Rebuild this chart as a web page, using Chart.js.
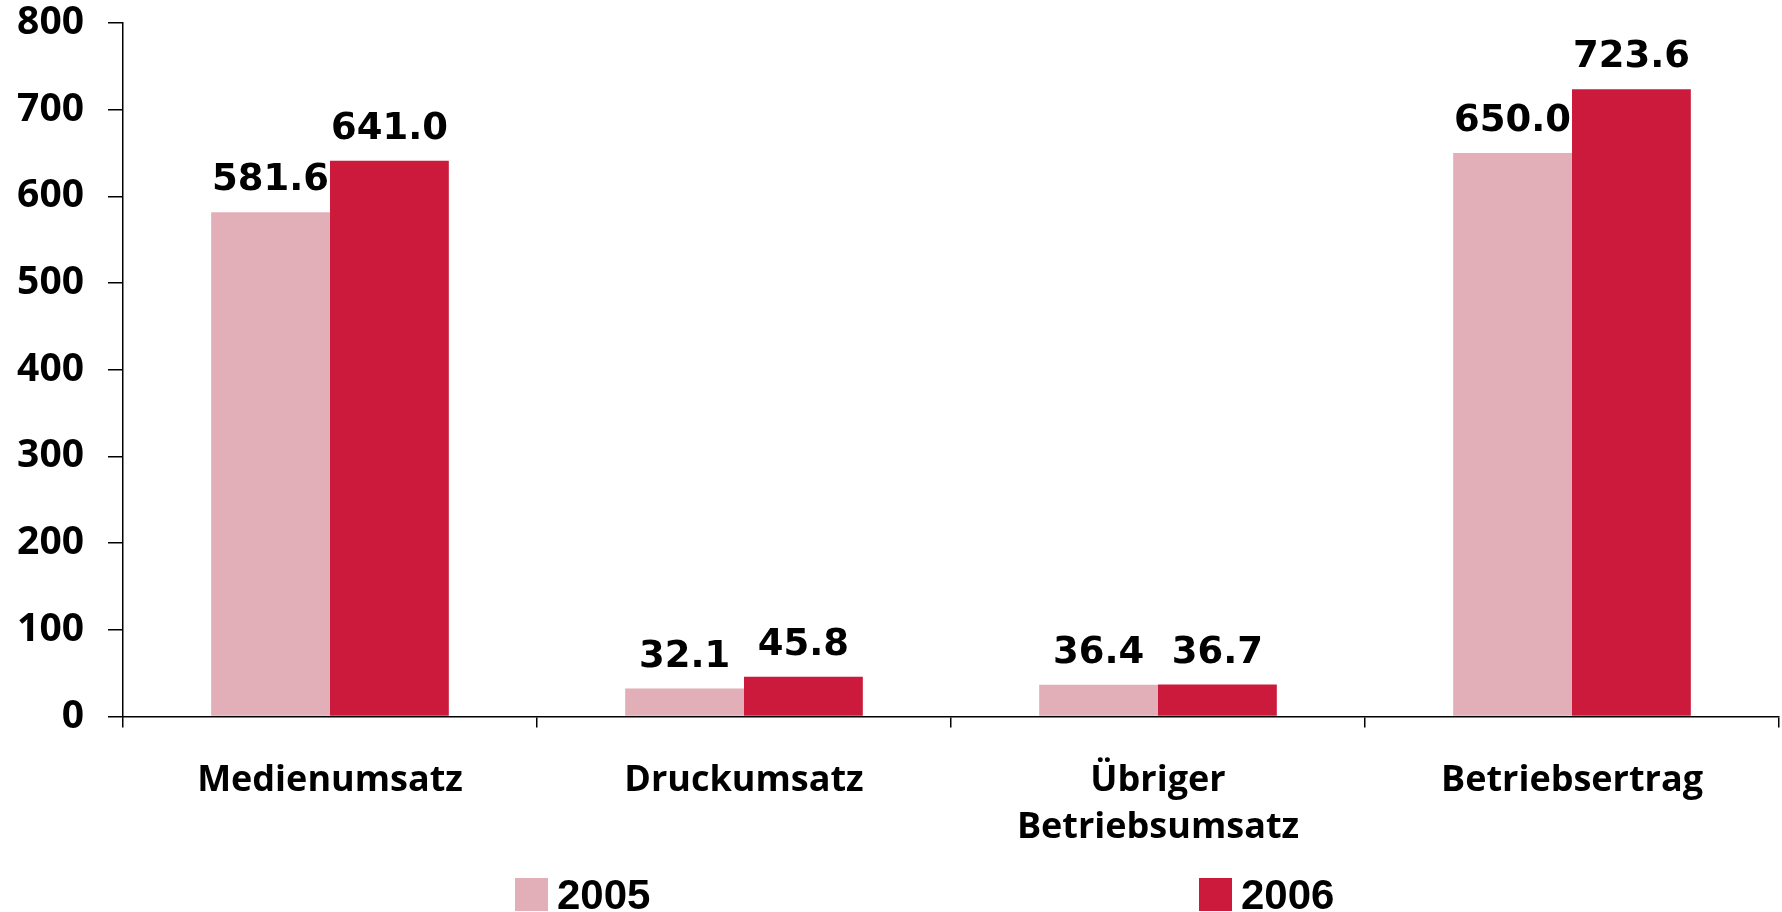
<!DOCTYPE html>
<html>
<head>
<meta charset="utf-8">
<script src="https://cdn.jsdelivr.net/npm/chart.js@4.4.0/dist/chart.umd.min.js"></script>
<style>
  html, body { margin: 0; padding: 0; background: #ffffff; }
  canvas { display: block; }
</style>
</head>
<body>
<canvas id="grafico" width="1782" height="912"></canvas>
<script>
// Datos del gráfico
const categorias = ['Medienumsatz', 'Druckumsatz', ['Übriger', 'Betriebsumsatz'], 'Betriebsertrag'];
const anios = ['2005', '2006'];
const valores2005 = [581.6, 32.1, 36.4, 650.0];
const valores2006 = [641.0, 45.8, 36.7, 723.6];
const ticksY = [0, 100, 200, 300, 400, 500, 600, 700, 800];

const colorClaro = '#e2aeb8';
const colorOscuro = '#cb1a3c';

// Etiquetas de valor encima de cada barra
const pluginValores = {
    id: 'valores',
    afterDatasetsDraw(chart) {
        const ctx = chart.ctx;
        ctx.save();
        ctx.font = 'bold 37px "DejaVu Sans"';
        ctx.fillStyle = '#000000';
        ctx.textAlign = 'center';
        ctx.textBaseline = 'alphabetic';
        chart.data.datasets.forEach((ds, i) => {
            chart.getDatasetMeta(i).data.forEach((barra, j) => {
                ctx.fillText(ds.data[j].toFixed(1), barra.x, barra.y - 22);
            });
        });
        ctx.restore();
    }
};

// Leyenda separada en dos extremos (como en el original)
const pluginLeyenda = {
    id: 'leyendaAbajo',
    afterDraw(chart) {
        const ctx = chart.ctx;
        const posiciones = [515, 1199];
        ctx.save();
        ctx.font = 'bold 42px "Liberation Sans"';
        ctx.textBaseline = 'alphabetic';
        ctx.textAlign = 'left';
        chart.data.datasets.forEach((ds, i) => {
            const x = posiciones[i];
            ctx.fillStyle = ds.backgroundColor;
            ctx.fillRect(x, 878, 33, 33);
            ctx.fillStyle = '#000000';
            ctx.fillText(ds.label, x + 42, 909);
        });
        ctx.restore();
    }
};

const grafico = new Chart(document.getElementById('grafico').getContext('2d'), {
    type: 'bar',
    data: {
        labels: categorias,
        datasets: [
            { label: anios[0], data: valores2005, backgroundColor: colorClaro, borderWidth: 0 },
            { label: anios[1], data: valores2006, backgroundColor: colorOscuro, borderWidth: 0 }
        ]
    },
    options: {
        responsive: false,
        animation: false,
        devicePixelRatio: 1,
        categoryPercentage: 0.574,
        barPercentage: 1.0,
        layout: { padding: { left: 17, right: 3, top: 0, bottom: 31 } },
        plugins: {
            legend: { display: false },
            tooltip: { enabled: false }
        },
        scales: {
            x: {
                grid: { offset: true, drawOnChartArea: false, tickLength: 11, color: '#000000', lineWidth: 1.5 },
                border: { color: '#000000', width: 1.5 },
                ticks: {
                    color: '#000000',
                    padding: 30,
                    maxRotation: 0,
                    font: { family: '"Open Sans"', weight: 'bold', size: 36, lineHeight: 1.3 }
                }
            },
            y: {
                min: 0,
                max: 800,
                afterBuildTicks(scale) { scale.ticks = ticksY.map(v => ({ value: v })); },
                // el eje ocupa solo etiqueta + separación + marca
                afterFit(scale) {
                    scale.width = 106;
                    scale.paddingTop = 23;
                    scale.paddingBottom = 23;
                },
                grid: { drawOnChartArea: false, tickLength: 15, color: '#000000', lineWidth: 1.5 },
                border: { color: '#000000', width: 1.5 },
                ticks: {
                    color: '#000000',
                    padding: 24,
                    font: { family: '"Open Sans"', weight: 'bold', size: 39 }
                }
            }
        }
    },
    plugins: [pluginValores, pluginLeyenda]
});
</script>
</body>
</html>
